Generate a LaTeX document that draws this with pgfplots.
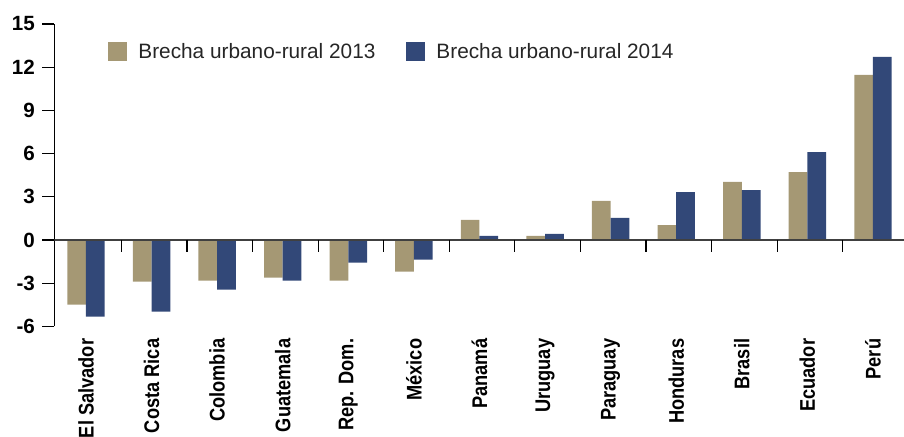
\documentclass[border=0pt]{standalone}
\usepackage{fontspec}
\setmainfont{Liberation Sans}
\newfontfamily\condfont{Liberation Sans}[FakeStretch=0.86]
\usepackage{pgfplots}
\pgfplotsset{compat=1.18}
\definecolor{tanA}{RGB}{165,152,116}
\definecolor{navyB}{RGB}{50,72,120}
\begin{document}
\begin{tikzpicture}
\begin{axis}[
  scale only axis,
  width=424.75pt, height=151.2pt,
  xmin=-0.48, xmax=12.473, ymin=-6, ymax=15,
  ybar=0pt, bar width=9.35pt,
  axis y line*=left,
  axis x line*=bottom,
  x axis line style={draw=none},
  y axis line style={black, line width=0.6pt},
  ytick={-6,-3,0,3,6,9,12,15},
  ytick align=outside,
  major tick length=6pt,
  ytick style={black, line width=0.6pt},
  xtick style={draw=none},
  /pgf/number format/assume math mode=true,
  yticklabel style={font=\bfseries\fontsize{10.3}{12}\selectfont, inner sep=0pt, xshift=-3.6pt},
  xtick={0,1,2,3,4,5,6,7,8,9,10,11,12},
  xticklabels={El Salvador,Costa Rica,Colombia,Guatemala,Rep. Dom.,México,Panamá,Uruguay,Paraguay,Honduras,Brasil,Ecuador,Perú},
  xticklabel style={rotate=90, anchor=east, inner sep=0pt, font=\condfont\bfseries\fontsize{10.6}{12}\selectfont},
  legend columns=2,
  legend image code/.code={\fill[#1, draw=none] (0pt,-4.75pt) rectangle (9.5pt,4.75pt);},
  legend style={draw=none, fill=none, at={(0.063,0.9074)}, anchor=west, inner sep=0pt,
    font=\fontsize{10.4}{12}\selectfont, text=black!85,
    /tikz/every odd column/.append style={column sep=3.5pt},
    /tikz/every even column/.append style={column sep=13.5pt}},
]
\addplot[fill=tanA, draw=none] coordinates {(0,-4.49)(1,-2.89)(2,-2.82)(3,-2.62)(4,-2.82)(5,-2.2)(6,1.39)(7,0.28)(8,2.71)(9,1.04)(10,4.03)(11,4.72)(12,11.46)};
\addplot[fill=navyB, draw=none] coordinates {(0,-5.32)(1,-4.98)(2,-3.45)(3,-2.82)(4,-1.57)(5,-1.37)(6,0.28)(7,0.42)(8,1.53)(9,3.33)(10,3.47)(11,6.11)(12,12.71)};
\legend{Brecha urbano-rural 2013, Brecha urbano-rural 2014}
\draw[black!75, line width=0.7pt] (axis cs:-0.48,0) -- (axis cs:12.473,0);
\pgfplotsinvokeforeach{0.54,1.54,2.54,3.54,4.54,5.54,6.54,7.54,8.54,9.54,10.54,11.54}{\draw[black, line width=0.6pt] (axis cs:#1,0) -- ++(0pt,-6pt);}
\end{axis}
\pgfresetboundingbox
\path ([shift={(-27.25pt,-55.3pt)}]current axis.south west) rectangle ([shift={(0pt,12pt)}]current axis.north east);
\end{tikzpicture}
\end{document}
